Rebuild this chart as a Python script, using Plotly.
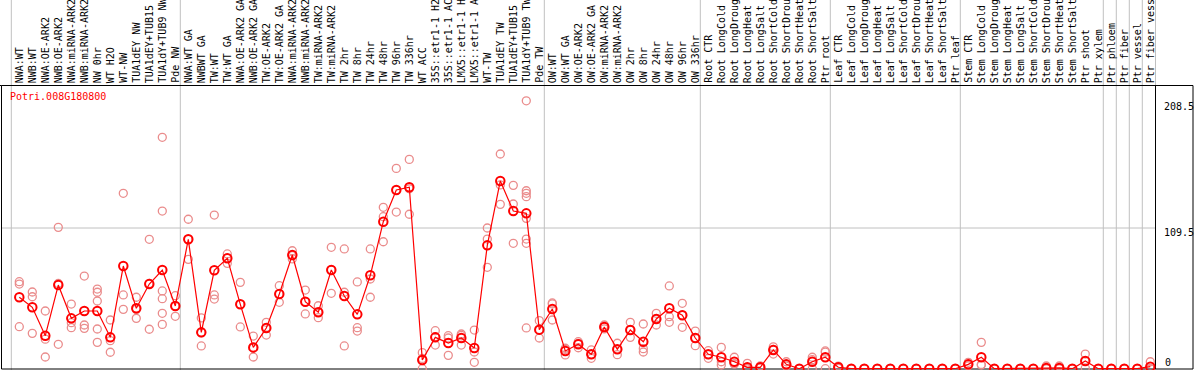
import plotly.graph_objects as go

gene_id = "Potri.008G180800"

categories = [
    "NWA:WT", "NWB:WT", "NWA:OE-ARK2", "NWB:OE-ARK2", "NWA:miRNA-ARK2", "NWB:miRNA-ARK2",
    "NW 0hr", "WT H2O", "WT-NW", "TUA1dEY NW", "TUA1dEY+TUB15", "TUA1dY+TUB9 NW", "Pde NW",
    "NWA:WT GA", "NWBWT GA", "TW:WT", "TW:WT GA", "NWA:OE-ARK2 GA", "NWB:OE-ARK2 GA",
    "TW:OE-ARK2", "TW:OE-ARK2 GA", "NWA:miRNA-ARK2", "NWB:miRNA-ARK2", "TW:miRNA-ARK2",
    "TW:miRNA-ARK2", "TW 2hr", "TW 8hr", "TW 24hr", "TW 48hr", "TW 96hr", "TW 336hr",
    "WT ACC", "35S::etr1-1 H2", "35S::etr1-1 AC", "LMX5::etr1-1 H", "LMX5::etr1-1 A",
    "WT-TW", "TUA1dEY TW", "TUA1dEY+TUB15", "TUA1dY+TUB9 TW", "Pde TW",
    "OW:WT", "OW:WT GA", "OW:OE-ARK2", "OW:OE-ARK2 GA", "OW:miRNA-ARK2", "OW:miRNA-ARK2",
    "OW 2hr", "OW 8hr", "OW 24hr", "OW 48hr", "OW 96hr", "OW 336hr",
    "Root CTR", "Root LongCold", "Root LongDroug", "Root LongHeat", "Root LongSalt",
    "Root ShortCold", "Root ShortDrou", "Root ShortHeat", "Root ShortSalt", "Ptr root",
    "Leaf CTR", "Leaf LongCold", "Leaf LongDroug", "Leaf LongHeat", "Leaf LongSalt",
    "Leaf ShortCold", "Leaf ShortDrou", "Leaf ShortHeat", "Leaf ShortSalt", "Ptr leaf",
    "Stem CTR", "Stem LongCold", "Stem LongDroug", "Stem LongHeat", "Stem LongSalt",
    "Stem ShortCold", "Stem ShortDrou", "Stem ShortHeat", "Stem ShortSalt", "Ptr shoot",
    "Ptr xylem", "Ptr phloem", "Ptr fiber", "Ptr vessel", "Ptr fiber vess",
]

mean_values = [
    55.6, 47.8, 25.7, 65.1, 39.2, 44.9, 44.9, 24.4, 79.9, 47.0, 65.9, 76.8, 48.8,
    100.7, 28.3, 76.6, 85.9, 50.1, 16.6, 31.7, 58.1, 88.5, 52.1, 43.9, 76.8, 56.6,
    42.3, 72.7, 114.4, 139.1, 141.2, 6.8, 24.4, 20.0, 23.9, 16.1, 96.0, 146.1, 122.7,
    120.9, 30.4, 46.5, 13.8, 19.0, 11.2, 32.5, 15.1, 30.1, 21.0, 38.7, 47.0, 41.6,
    23.9, 11.2, 8.9, 5.4, 1.1, 1.1, 14.6, 3.4, 0.0, 5.4, 8.9, 1.1, 0.0, 0.0, 0.0,
    0.0, 0.0, 0.0, 0.0, 0.0, 0.0, 3.4, 8.9, 0.0, 0.0, 0.0, 0.0, 0.5, 0.6, 0.0, 6.0,
    0.0, 0.0, 0.0, 0.0, 1.6,
]

replicate_values = [
    [67.7, 65.9, 32.7], [59.7, 56.0, 27.5], [44.9, 23.0, 9.1], [110.0, 66.3, 19.0],
    [50.3, 35.8, 31.9], [72.1, 34.0, 31.4], [62.0, 59.5, 52.7, 30.9, 20.5],
    [37.9, 21.8, 12.8], [136.5, 57.4, 46.2], [55.6, 46.2, 39.2], [100.7, 66.3, 30.7],
    [180.1, 122.7, 60.5, 54.5, 43.1, 34.5], [56.8, 48.8, 40.8], [116.3, 100.7, 85.1],
    [39.5, 28.0, 17.7], [119.6, 57.4, 54.2], [89.3, 86.0, 82.0], [67.2, 50.0, 32.5],
    [25.4, 16.0, 9.1], [36.1, 32.0, 26.2], [64.6, 58.0, 51.7], [91.8, 88.0, 85.4],
    [61.2, 52.0, 42.6], [49.0, 44.0, 39.7], [94.5, 77.0, 58.7], [93.2, 59.5, 17.7],
    [67.5, 31.9, 29.3], [93.2, 69.8, 55.6], [125.6, 118.3, 98.8], [155.9, 139.0, 121.9],
    [162.9, 140.0, 120.2], [12.5, 8.0, 0.0], [29.6, 25.0, 18.4], [25.7, 23.9, 10.4],
    [27.0, 26.0, 18.4], [30.1, 13.0, 5.0], [109.5, 100.9, 78.9], [167.1, 143.0, 127.9],
    [142.7, 128.2, 97.6], [208.5, 138.5, 136.5, 133.9, 117.0, 100.9, 97.6, 31.7],
    [37.4, 30.0, 23.9], [51.2, 50.4, 37.9], [15.9, 15.0, 10.7], [21.0, 19.7, 16.3],
    [14.6, 11.0, 8.1], [34.0, 32.5, 31.0], [19.8, 15.0, 10.9], [36.1, 30.0, 24.4],
    [34.8, 15.6, 13.0], [43.1, 39.0, 34.0], [64.4, 40.5, 36.1], [50.9, 41.6, 32.2],
    [29.3, 24.0, 17.9], [14.0, 11.0, 8.1], [16.6, 5.4, 2.9], [8.9, 3.7, 3.7],
    [4.2, 0.0, 0.0], [2.1, 0.6, 0.6], [17.0, 15.0, 11.4], [5.4, 3.0, 2.0],
    [0.0, 0.0, 0.0], [8.9, 7.0, 0.0], [13.8, 12.9, 0.0], [2.0, 1.0, 0.3],
    [0.0, 0.0, 0.0], [0.0, 0.0, 0.0], [0.0, 0.0, 0.0], [0.0, 0.0, 0.0], [0.0, 0.0, 0.0],
    [0.0, 0.0, 0.0], [0.0, 0.0, 0.0], [0.0, 0.0, 0.0], [0.0, 0.0, 0.0],
    [5.0, 3.5, 2.3], [20.5, 3.3, 2.9], [0.0, 0.0, 0.0], [0.0, 0.0, 0.0], [0.0, 0.0, 0.0],
    [0.0, 0.0, 0.0], [2.1, 0.0, 0.0], [2.1, 0.0, 0.0], [0.0, 0.0, 0.0], [11.4, 6.0, 0.6],
    [0.0, 0.0, 0.0], [0.0, 0.0, 0.0], [0.0, 0.0, 0.0], [0.0, 0.0, 0.0], [5.4, 0.0, 0.0],
]

# index of the last category in each group (separators drawn after them)
group_ends = [-1, 12, 40, 52, 62, 72, 83, 84, 85, 86]

axis_labels = ["208.5", "109.5", "0"]

W, H = 1194, 370
FONT = "DejaVu Sans Mono"

def px_x(p):
    return p / W

def px_y(p):
    return (H - p) / H

xs = list(range(len(categories)))
rep_x = [i for i, reps in enumerate(replicate_values) for _ in reps]
rep_y = [v for reps in replicate_values for v in reps]

fig = go.Figure()
fig.add_trace(go.Scatter(
    x=rep_x, y=rep_y, mode="markers", cliponaxis=False, showlegend=False,
    marker=dict(symbol="circle-open", size=8, color="rgb(234,140,140)",
                line=dict(width=1.3, color="rgb(234,140,140)")),
))
fig.add_trace(go.Scatter(
    x=xs, y=mean_values, mode="lines+markers", cliponaxis=False, showlegend=False,
    line=dict(color="#ff0000", width=1.2),
    marker=dict(symbol="circle-open", size=8.5, color="#ff0000",
                line=dict(width=2, color="#ff0000")),
))

shapes = []
# vertical group separators (full height including label area)
for b in group_ends:
    xv = b + 0.5 - 1.5 / 13
    shapes.append(dict(type="line", xref="x", yref="paper", x0=xv, x1=xv, y0=0, y1=1,
                       line=dict(color="#c0c0c0", width=1), layer="below"))
shapes.append(dict(type="line", xref="paper", yref="paper", x0=px_x(1155.5), x1=px_x(1155.5),
                   y0=px_y(85), y1=1, line=dict(color="#c0c0c0", width=1), layer="below"))
# horizontal gridline at 109.5
shapes.append(dict(type="line", xref="paper", yref="y", x0=px_x(1), x1=px_x(1155.5),
                   y0=109.5, y1=109.5, line=dict(color="#c0c0c0", width=1), layer="below"))
# frame
shapes.append(dict(type="rect", xref="paper", yref="paper", x0=px_x(1.5), x1=px_x(1193),
                   y0=px_y(369), y1=px_y(85.5), line=dict(color="black", width=1), layer="below"))
shapes.append(dict(type="line", xref="paper", yref="paper", x0=0, x1=px_x(1.5),
                   y0=px_y(85.5), y1=px_y(85.5), line=dict(color="black", width=1)))
shapes.append(dict(type="line", xref="paper", yref="paper", x0=px_x(1155.5), x1=px_x(1155.5),
                   y0=px_y(369), y1=px_y(85.5), line=dict(color="black", width=1), layer="below"))

annotations = []
for i, lab in enumerate(categories):
    annotations.append(dict(x=i, y=px_y(84), xref="x", yref="paper", text=lab,
                            textangle=-90, showarrow=False, xanchor="center", yanchor="bottom",
                            borderpad=0, font=dict(family=FONT, size=10, color="black")))
annotations.append(dict(x=px_x(9), y=px_y(96.5), xref="paper", yref="paper", text=gene_id,
                        showarrow=False, xanchor="left", yanchor="middle", borderpad=0,
                        font=dict(family=FONT, size=10, color="#ff0000")))
for lab, ypx, xpx in zip(axis_labels, [106.7, 232.3, 362], [1163, 1163, 1164]):
    annotations.append(dict(x=px_x(xpx), y=px_y(ypx), xref="paper", yref="paper", text=lab,
                            showarrow=False, xanchor="left", yanchor="middle", borderpad=0,
                            font=dict(family=FONT, size=10, color="black")))

fig.update_layout(
    width=W, height=H, autosize=False,
    margin=dict(l=0, r=0, t=0, b=0, pad=0),
    paper_bgcolor="white", plot_bgcolor="white",
    xaxis=dict(domain=[px_x(1), px_x(1155)], range=[-1.408, 87.362], visible=False),
    yaxis=dict(domain=[px_y(369), px_y(85)], range=[-0.23, 220.8], visible=False),
    shapes=shapes, annotations=annotations,
)

fig.write_html(
    "out.html",
    config={"displayModeBar": False},
    post_script="document.body.style.margin='0px';document.body.style.overflow='hidden';",
)
